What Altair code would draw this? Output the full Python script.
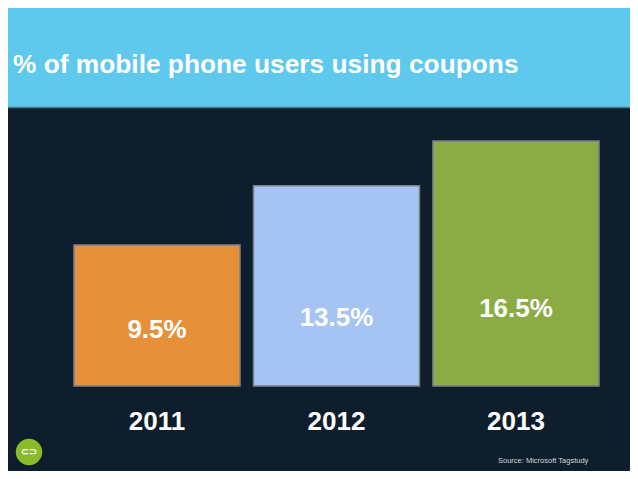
import altair as alt
import pandas as pd

TITLE = "% of mobile phone users using coupons"
SOURCE = "Source: Microsoft Tagstudy"
years = ["2011", "2012", "2013"]
shares = [9.5, 13.5, 16.5]
labels = ["9.5%", "13.5%", "16.5%"]

bar_colors = ["#e6913a", "#a5c3f3", "#8bab45"]
BG = "#0f1e2c"
BANNER = "#5ec8ed"
FONT = "Liberation Sans"

W, H = 622, 463

df = pd.DataFrame({"year": years, "share": shares, "label": labels})
one = pd.DataFrame({"k": [0]})

xs = alt.Scale(domain=years, range=[66, 591], paddingInner=0.075, paddingOuter=0)
ys = alt.Scale(domain=[0, 25.47], range=[378, 0])

banner = alt.Chart(one).mark_rect(color=BANNER).encode(
    x=alt.value(0), x2=alt.value(W), y=alt.value(0), y2=alt.value(99)
)
edge = alt.Chart(one).mark_rule(color="#4a7891", strokeWidth=1.5).encode(
    x=alt.value(0), x2=alt.value(W), y=alt.value(99.5)
)
title = alt.Chart(one).mark_text(
    text=TITLE, font=FONT, fontWeight="bold", fontSize=26.3, color="white",
    align="left", baseline="alphabetic"
).encode(x=alt.value(5), y=alt.value(65))

bars = alt.Chart(df).mark_bar(stroke="#7b8087", strokeWidth=1.5).encode(
    x=alt.X("year:N", scale=xs, axis=None),
    y=alt.Y("share:Q", scale=ys, axis=None),
    color=alt.Color("year:N", scale=alt.Scale(domain=years, range=bar_colors), legend=None),
)

pct = alt.Chart(df).transform_calculate(pos="datum.share * 0.2 + 1.35").mark_text(
    font=FONT, fontWeight="bold", fontSize=26, color="white", baseline="alphabetic"
).encode(
    x=alt.X("year:N", scale=xs, axis=None),
    y=alt.Y("pos:Q", scale=ys, axis=None),
    text="label:N",
)

year_txt = alt.Chart(df).mark_text(
    font=FONT, fontWeight="bold", fontSize=26, color="white", baseline="alphabetic"
).encode(
    x=alt.X("year:N", scale=xs, axis=None),
    y=alt.value(422),
    text="year:N",
)

logo = alt.Chart(one).mark_point(shape="circle", filled=True, size=700, color="#8cbb2a", opacity=1).encode(
    x=alt.value(21), y=alt.value(444)
)
logo_txt = alt.Chart(one).mark_text(
    text="⊂⊃", font="DejaVu Sans", fontWeight="bold", fontSize=10, color="white", baseline="middle"
).encode(x=alt.value(21), y=alt.value(444))

source = alt.Chart(one).mark_text(
    text=SOURCE, font=FONT, fontSize=7.5, color="#d0d6dc", align="left", baseline="alphabetic"
).encode(x=alt.value(490), y=alt.value(455))

chart = alt.layer(banner, edge, title, bars, pct, year_txt, logo, logo_txt, source).properties(
    width=W, height=H, padding=0, autosize="none", background=BG
).configure_view(stroke=None)

chart.save("out.html", embed_options={"renderer": "svg", "actions": False})
